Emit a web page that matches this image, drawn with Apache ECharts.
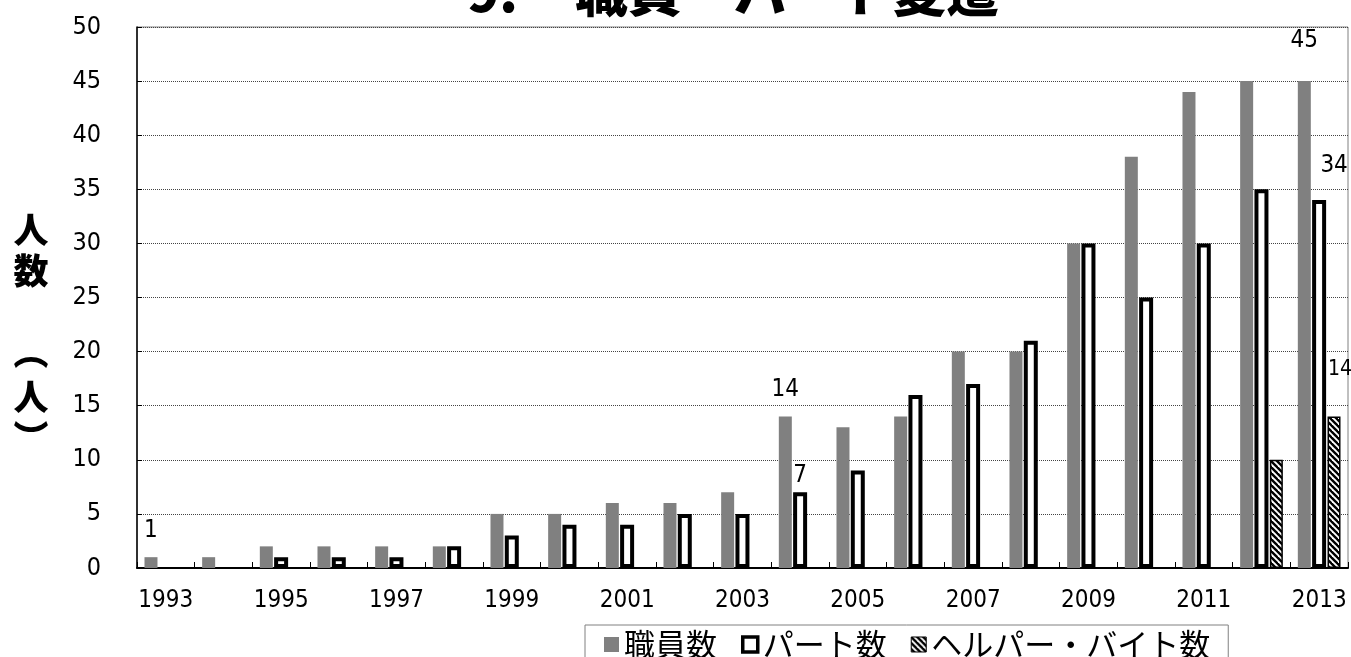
<!DOCTYPE html>
<html>
<head>
<meta charset="utf-8">
<script src="https://cdn.jsdelivr.net/npm/echarts@6/dist/echarts.min.js"></script>
<style>
  html, body { margin: 0; padding: 0; background: #fff; }
  #chart { width: 1351px; height: 657px; }
</style>
</head>
<body>
<div id="chart"></div>
<script>
// Staff / part-timer / helper head counts by year
const years = ['1993','1994','1995','1996','1997','1998','1999','2000','2001','2002','2003',
               '2004','2005','2006','2007','2008','2009','2010','2011','2012','2013'];
const staff  = [1, 1, 2, 2, 2, 2, 5, 5, 6, 6, 7, 14, 13, 14, 20, 20, 30, 38, 44, 45, 45];
const part   = [null, null, 1, 1, 1, 2, 3, 4, 4, 5, 5, 7, 9, 16, 17, 21, 30, 25, 30, 35, 34];
const helper = [null, null, null, null, null, null, null, null, null, null, null,
                null, null, null, null, null, null, null, null, 10, 14];
const seriesNames = ['職員数', 'パート数', 'ヘルパー・バイト数'];
const titleText = ['9.', '職員・パート変遷'];
const yAxisName = ['人', '数', '︵', '人', '︶'];

const NUM_FONT = '"DejaVu Sans Condensed", "Liberation Sans Narrow", "DejaVu Sans", sans-serif';
const JP_FONT = '"Noto Sans CJK JP", sans-serif';

// diagonal hatch tile for the helper bars
function hatchTile() {
  const n = 6;
  const c = document.createElement('canvas');
  c.width = n; c.height = n;
  const g = c.getContext('2d');
  g.fillStyle = '#fff';
  g.fillRect(0, 0, n, n);
  g.strokeStyle = '#000';
  g.lineWidth = 2.4;
  for (const k of [-n, 0, n]) {
    g.beginPath();
    g.moveTo(k - 1, -1);
    g.lineTo(k + n + 1, n + 1);
    g.stroke();
  }
  return c;
}
const hatch = { image: hatchTile(), repeat: 'repeat' };

// value labels: [index, distance above bar, x offset, font size]
function labelled(values, marks) {
  return values.map((v, i) => {
    const m = marks.find(t => t[0] === i);
    if (!m) return v;
    return {
      value: v,
      label: {
        show: true, position: 'top', distance: m[1], offset: [m[2], 0],
        fontFamily: NUM_FONT, fontSize: m[3], color: '#000'
      }
    };
  });
}

const chart = echarts.init(document.getElementById('chart'), null, { renderer: 'canvas' });

const graphic = [
  { type: 'text', x: 467, y: -8,
    style: { text: titleText[0], fontFamily: JP_FONT, fontSize: 53, fontWeight: 900,
             fill: '#000', verticalAlign: 'middle' } },
  { type: 'text', x: 575, y: -8,
    style: { text: titleText[1], fontFamily: JP_FONT, fontSize: 53, fontWeight: 900,
             fill: '#000', verticalAlign: 'middle' } }
];
const nameY = [230, 271, 352, 397, 438];
yAxisName.forEach((ch, i) => {
  graphic.push({ type: 'text', x: 31, y: nameY[i],
    style: { text: ch, fontFamily: JP_FONT, fontSize: 35, fontWeight: 900, fill: '#000',
             align: 'center', verticalAlign: 'middle' } });
});

chart.setOption({
  animation: false,
  backgroundColor: '#fff',
  graphic: graphic,
  grid: { left: 137, right: 3, top: 27, bottom: 89, show: true,
          borderColor: '#808080', borderWidth: 1, containLabel: false },
  legend: {
    left: 585, top: 625,
    itemWidth: 15, itemHeight: 15, itemGap: 24,
    padding: [4, 18, 30, 19],
    borderColor: '#808080', borderWidth: 1,
    textStyle: { fontFamily: JP_FONT, fontSize: 31, color: '#000' },
    data: [
      { name: seriesNames[0], icon: 'rect' },
      { name: seriesNames[1], icon: 'rect', itemStyle: { borderWidth: 3.5, borderColor: '#000' } },
      { name: seriesNames[2], icon: 'rect', itemStyle: { borderWidth: 1, borderColor: '#000' } }
    ]
  },
  xAxis: {
    type: 'category', data: years,
    axisLine: { lineStyle: { color: '#000', width: 2 } },
    axisTick: { show: true, inside: true, length: 6, interval: 0, alignWithLabel: false,
                lineStyle: { color: '#000', width: 1 } },
    axisLabel: { interval: 1, margin: 21, fontFamily: NUM_FONT, fontSize: 24, color: '#000' },
    splitLine: { show: false }
  },
  yAxis: {
    type: 'value', min: 0, max: 50, interval: 5,
    axisLine: { show: true, lineStyle: { color: '#000', width: 1.5 } },
    axisTick: { show: true, inside: true, length: 5, lineStyle: { color: '#000' } },
    axisLabel: { margin: 36, fontFamily: NUM_FONT, fontSize: 25, color: '#000' },
    splitLine: { show: true, lineStyle: { color: '#444', width: 1, type: [1, 1] } }
  },
  series: [
    { name: seriesNames[0], type: 'bar', barWidth: 13, barGap: '10%',
      itemStyle: { color: '#808080' },
      data: labelled(staff, [[0, 14, 0, 24], [11, 15, 0, 24], [20, 28, 0, 24]]) },
    { name: seriesNames[1], type: 'bar', barWidth: 14, barGap: '10%',
      itemStyle: { color: '#fff', borderColor: '#000', borderWidth: 4 },
      data: labelled(part, [[11, 4, 0, 24], [20, 22, 15, 24]]) },
    { name: seriesNames[2], type: 'bar', barWidth: 13, barGap: '10%',
      itemStyle: { color: hatch, borderColor: '#000', borderWidth: 1.5 },
      data: labelled(helper, [[20, 36, 6, 21]]) }
  ]
});
</script>
</body>
</html>
